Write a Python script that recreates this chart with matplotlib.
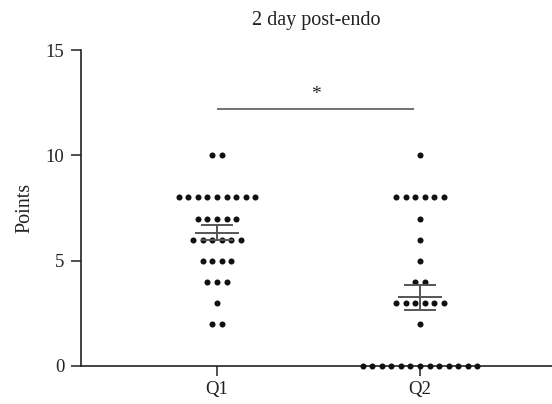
import numpy as np
import matplotlib
matplotlib.use('Agg')
import matplotlib.pyplot as plt

# scores per group
groups = ['Q1', 'Q2']
q1_values = [10] * 2 + [8] * 9 + [7] * 5 + [6] * 6 + [5] * 4 + [4] * 3 + [3] * 1 + [2] * 2
q2_values = [10] * 1 + [8] * 6 + [7] * 1 + [6] * 1 + [5] * 1 + [4] * 2 + [3] * 6 + [2] * 1 + [0] * 13
data = [q1_values, q2_values]

title = '2 day post-endo'
ylabel = 'Points'
sig_text = '*'
sig_y = 12.2

plt.rcParams['font.family'] = ['Liberation Serif', 'DejaVu Serif']

fig = plt.figure(figsize=(5.52, 4.04), dpi=100)
ax = fig.add_axes([81 / 552, 1 - 365.7 / 404, 1 - 81 / 552, (365.7 - 50.3) / 404])

dot_step = 0.047
for i, vals in enumerate(data):
    vals = np.array(vals)
    # beeswarm: each level laid out centred around the group position
    for level in np.unique(vals):
        n = np.sum(vals == level)
        xs = i + (np.arange(n) - (n - 1) / 2) * dot_step
        ax.scatter(xs, [level] * n, s=19, color='#111111', zorder=3,
                   clip_on=False, linewidths=0)
    mean = vals.mean()
    sem = vals.std(ddof=1) / np.sqrt(len(vals))
    ax.hlines(mean, i - 0.108, i + 0.108, color='#555555', lw=1.4, zorder=4)
    ax.hlines([mean - sem, mean + sem], i - 0.081, i + 0.081,
              color='#555555', lw=1.4, zorder=4)
    ax.vlines(i, mean - sem, mean + sem, color='#555555', lw=1.4, zorder=4)

# significance bar
ax.hlines(sig_y, 0, 0.97, color='#666666', lw=1.3)
ax.text(0.485, sig_y + 0.3, sig_text, ha='center', va='bottom', fontsize=14,
        color='#222222')

ax.set_xlim(-0.67, 1.65)
ax.set_ylim(0, 15)
ax.set_yticks([0, 5, 10, 15])
ax.set_xticks([0, 1])
ax.set_xticklabels(groups)
ax.tick_params(axis='both', direction='out', length=7, width=1.1,
               labelsize=13.5, color='#222222', labelcolor='#222222')
ax.tick_params(axis='y', pad=5)
ax.tick_params(axis='x', pad=4)
ax.spines['top'].set_visible(False)
ax.spines['right'].set_visible(False)
for s in ['left', 'bottom']:
    ax.spines[s].set_linewidth(1.2)
    ax.spines[s].set_color('#222222')

ax.set_ylabel(ylabel, fontsize=14.5, color='#222222', labelpad=8)
ax.set_title(title, fontsize=14.5, color='#222222', pad=18)

fig.savefig('out.png', dpi=100)
